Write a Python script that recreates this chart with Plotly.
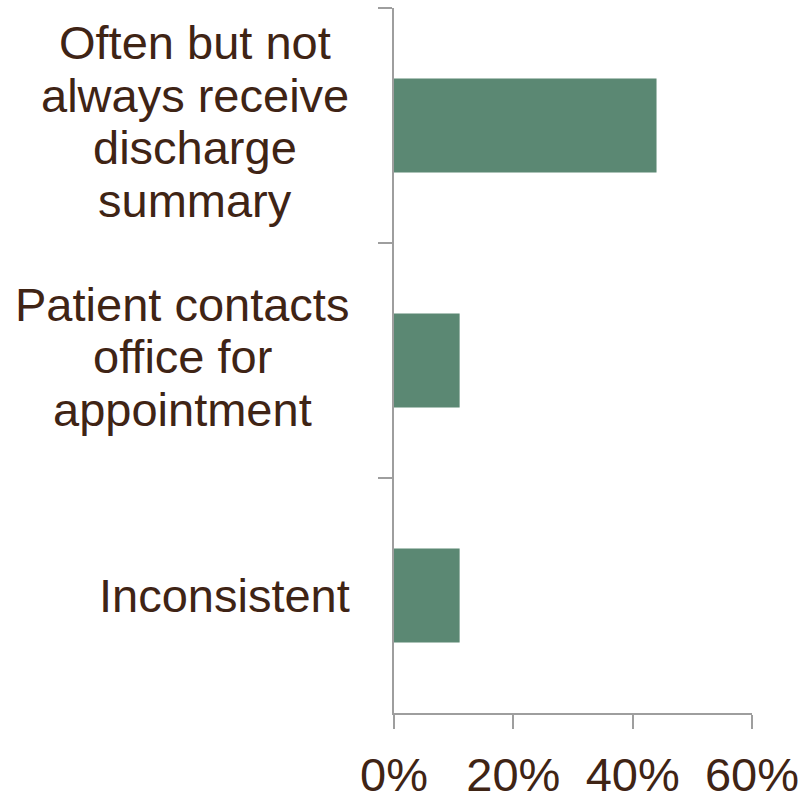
import plotly.graph_objects as go

# Survey responses: how the practice learns about a hospital discharge
categories = [
    "Often but not always receive discharge summary",
    "Patient contacts office for appointment",
    "Inconsistent",
]
label_lines = [
    ["Often but not", "always receive", "discharge", "summary"],
    ["Patient contacts", "office for", "appointment"],
    ["Inconsistent"],
]
shares = [0.44, 0.11, 0.11]
x_ticks = [0, 0.2, 0.4, 0.6]

TEXT = "#3F2415"
BAR = "#5B8873"
AXIS = "#9E9E9E"
FONT = "Liberation Sans, Arial, sans-serif"
SIZE = 47

fig = go.Figure(
    go.Bar(
        x=shares,
        y=categories,
        orientation="h",
        width=0.4,
        marker=dict(color=BAR, line=dict(width=0)),
        hoverinfo="skip",
    )
)

# Category labels drawn line by line for tight line spacing, each block centred
block_center_px = [-199, -212, -170]  # horizontal centre of each block, relative to the y axis
line_gap = 52.5
annotations = []
for cat, lines, cx in zip(categories, label_lines, block_center_px):
    n = len(lines)
    for j, line in enumerate(lines):
        annotations.append(
            dict(
                text=line,
                xref="paper",
                x=0,
                xanchor="center",
                xshift=cx,
                yref="y",
                y=cat,
                yanchor="middle",
                yshift=((n - 1) / 2 - j) * line_gap + (4 if n > 1 else 0),
                showarrow=False,
                font=dict(family=FONT, size=SIZE, color=TEXT),
            )
        )

fig.update_layout(
    width=802,
    height=804,
    margin=dict(l=394, r=50, t=8, b=91, autoexpand=False),
    paper_bgcolor="white",
    plot_bgcolor="white",
    showlegend=False,
    bargap=0.6,
    font=dict(family=FONT, size=SIZE, color=TEXT),
    annotations=annotations,
    xaxis=dict(
        range=[0, 0.6],
        tickvals=x_ticks,
        tickformat=".0%",
        automargin=False,
        showgrid=False,
        zeroline=False,
        showline=True,
        linecolor=AXIS,
        linewidth=2,
        ticks="outside",
        ticklen=14,
        tickwidth=2,
        tickcolor=AXIS,
        ticklabelstandoff=6,
        tickfont=dict(family=FONT, size=SIZE, color=TEXT),
    ),
    yaxis=dict(
        autorange="reversed",
        automargin=False,
        showticklabels=False,
        showgrid=False,
        zeroline=False,
        showline=True,
        linecolor=AXIS,
        linewidth=2,
        ticks="outside",
        tickson="boundaries",
        ticklen=14,
        tickwidth=2,
        tickcolor=AXIS,
    ),
)

fig.write_html("out.html")
